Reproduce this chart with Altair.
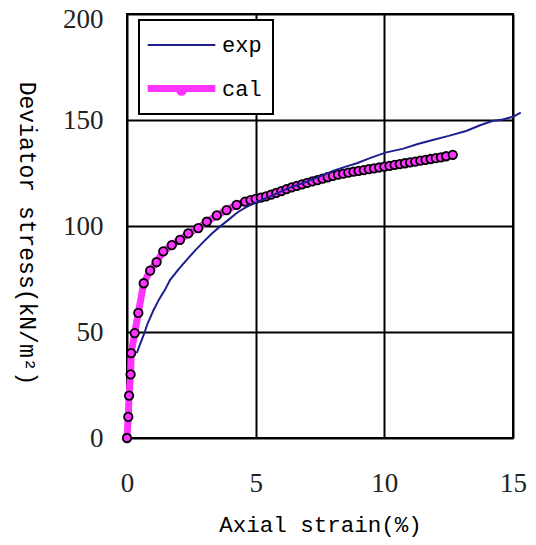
import altair as alt
import pandas as pd

# experimental curve
exp_x = [0.38, 0.5, 0.63, 0.8, 1.02, 1.25, 1.48, 1.67, 2.0, 2.32, 2.65, 2.97, 3.3, 3.61,
         3.95, 4.3, 4.65, 5.0, 5.67, 6.3, 7.0, 7.62, 8.0, 8.5, 8.93, 9.44, 10.04, 10.74,
         11.3, 11.88, 12.5, 13.18, 13.72, 14.2, 14.6, 15.0, 15.3]
exp_y = [40, 44, 48, 54, 60, 65.5, 70, 74.5, 79.5, 84, 88.5, 92.5, 96.5, 99.7,
         103, 106.5, 109, 111, 114.6, 118, 121, 124, 126, 128, 129.6, 132, 134.6, 136.5,
         138.7, 140.6, 142.5, 144.8, 147.5, 149.5, 150.2, 151.5, 153.5]

# calculated curve
cal_x = [0.0, 0.05, 0.08, 0.14, 0.16, 0.3, 0.44, 0.65, 0.9, 1.15, 1.41, 1.74, 2.06, 2.38,
         2.77, 3.1, 3.49, 3.87, 4.26, 4.59, 4.8, 5.0, 5.2, 5.4, 5.6, 5.8, 6.0, 6.2, 6.4,
         6.6, 6.8, 7.0, 7.2, 7.4, 7.6, 7.8, 8.0, 8.2, 8.4, 8.6, 8.8, 9.0, 9.2, 9.4, 9.6,
         9.8, 10.0, 10.2, 10.4, 10.6, 10.8, 11.0, 11.2, 11.4, 11.6, 11.8, 12.0, 12.2,
         12.4, 12.66]
cal_y = [0, 10, 20, 30, 40, 49.5, 59, 73, 79, 83, 88, 91, 93.5, 96.5,
         99, 102, 105, 107.5, 110, 111.5, 112.2, 112.8, 113.4, 114, 114.8, 115.6, 116.5,
         117.4, 118.2, 118.9, 119.6, 120.3, 121, 121.6, 122.3, 123, 123.6, 124.2, 124.7,
         125.2, 125.6, 126, 126.4, 126.8, 127.2, 127.6, 128, 128.4, 128.8, 129.2, 129.6,
         130, 130.4, 130.8, 131.2, 131.6, 132, 132.4, 132.9, 133.6]

series_names = ["exp", "cal"]
series_colors = ["#1f1f8f", "#ff33ff"]
series_widths = [2, 7]
x_ticks = [0, 5, 10, 15]
y_ticks = [0, 50, 100, 150, 200]

df = pd.concat([
    pd.DataFrame({"strain": exp_x, "stress": exp_y, "series": "exp"}),
    pd.DataFrame({"strain": cal_x, "stress": cal_y, "series": "cal"}),
], ignore_index=True)
df["marker"] = df["series"]

x_enc = alt.X("strain:Q", scale=alt.Scale(domain=[0, 15], nice=False),
              axis=alt.Axis(values=x_ticks, title="Axial strain(%)", grid=True,
                            gridColor="black", gridWidth=2, domain=False, ticks=False,
                            tickSize=0, labelPadding=45, labelBaseline="middle",
                            labelFlush=False,
                            labelFont="Liberation Serif", labelFontSize=27,
                            labelColor="#222", titleFont="Liberation Mono",
                            titleFontSize=22.5, titleFontWeight="normal", titleColor="black",
                            titleBaseline="middle", titleY=86))
y_enc = alt.Y("stress:Q", scale=alt.Scale(domain=[0, 200], nice=False),
              axis=alt.Axis(values=y_ticks, title="Deviator stress(kN/m²)", grid=True,
                            gridColor="black", gridWidth=2, domain=False, ticks=False,
                            tickSize=0, labelPadding=24, labelFlush=False,
                            labelOffset={"condition": {"test": "datum.value == 200", "value": 5},
                                         "value": 0},
                            labelFont="Liberation Serif", labelFontSize=27,
                            labelColor="#222", titleFont="Liberation Mono",
                            titleFontSize=23, titleFontWeight="normal", titleColor="black",
                            titleAngle=90, titleBaseline="middle", titleAlign="center",
                            titleX=-101, titleY=219))

def color_legend():
    return alt.Legend(
        title=None, orient="none", legendX=12, legendY=6, padding=11,
        symbolType="M-2.6,0H2.6", symbolSize=676, symbolOffset=15,
        labelOffset=24, rowPadding=16, labelFont="Liberation Mono", labelFontSize=22,
        labelColor="black", strokeColor="black", fillColor="white", zindex=0,
    )

color_enc = alt.Color("series:N", scale=alt.Scale(domain=series_names, range=series_colors),
                      legend=color_legend())
width_enc = alt.StrokeWidth("series:N", scale=alt.Scale(domain=series_names, range=series_widths),
                            legend=color_legend())

cal_line = alt.Chart(df).transform_filter(alt.datum.series == "cal").mark_line().encode(
    x=x_enc, y=y_enc, color=color_enc, strokeWidth=width_enc)

cal_pts = alt.Chart(df).transform_filter(alt.datum.series == "cal").mark_point(
    shape="circle", filled=True, fill="#ff33ff", stroke="black", strokeWidth=1.8,
    size=72, opacity=1).encode(
    x=x_enc, y=y_enc,
    shape=alt.Shape("marker:N", scale=alt.Scale(domain=["cal"], range=["circle"]),
                    legend=alt.Legend(title=None, orient="none", legendX=48, legendY=70,
                                      padding=0, symbolSize=110, labelOpacity=0,
                                      labelFontSize=8, symbolFillColor="#ff33ff",
                                      symbolStrokeColor="black", symbolStrokeWidth=2.2,
                                      symbolOpacity=1, strokeColor="transparent",
                                      zindex=5)))

exp_line = alt.Chart(df).transform_filter(alt.datum.series == "exp").mark_line().encode(
    x=x_enc, y=y_enc, color=color_enc, strokeWidth=width_enc)

chart = alt.layer(cal_line, cal_pts, exp_line).properties(
    width=386, height=424,
    autosize=alt.AutoSizeParams(type="none"),
    padding={"left": 119, "top": 6, "right": 14, "bottom": 99},
).configure_view(stroke="black", strokeWidth=2).configure_legend(strokeWidth=2)

chart.save("out.html", embed_options={"renderer": "svg", "actions": False})
